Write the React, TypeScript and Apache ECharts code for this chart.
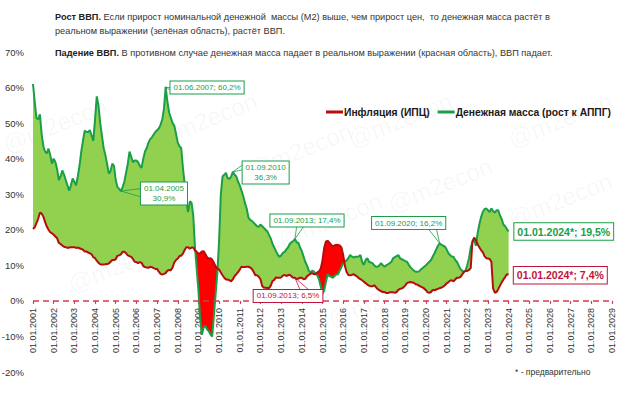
import React, { useEffect, useRef } from "react";
import * as echarts from "echarts";

// Monthly dates 01.MM.YYYY from 01.01.2001 to 01.01.2029
const firstYear = 2001;
const lastYear = 2029;
const categories: string[] = [];
for (let y = firstYear; y <= lastYear; y++) {
  for (let m = 1; m <= 12; m++) {
    if (y === lastYear && m > 1) break;
    categories.push(`01.${String(m).padStart(2, "0")}.${y}`);
  }
}

// Money supply M2, % y/y, monthly from 01.01.2001 to 01.01.2024
const moneySupply: number[] = [
  61, 56, 51.5, 51, 52.5, 47, 43.5, 42, 41.5, 42.8, 41, 38.6, // 2001
  40, 39, 37, 34, 35, 36.7, 35.5, 34, 32.5, 31, 32.5, 34.4, // 2002
  33.5, 32.5, 35, 38, 42, 45, 47.9, 47.5, 47.5, 48, 46.5, 45, // 2003
  51, 57.5, 55, 50, 46.5, 43, 41, 38.5, 35.8, 36.5, 38.6, 38, // 2004
  34, 32, 31.5, 30.9, 32, 33.5, 36, 38.5, 42, 40.5, 39, 39.5, // 2005
  39.5, 39, 38, 37.4, 40, 42, 43, 44.5, 45.5, 46, 46.8, 47.5, // 2006
  48, 48.5, 49.5, 51, 54, 60.2, 56, 53, 51.5, 50, 49.3, 47, // 2007
  44.5, 43.5, 43, 37.5, 33, 28, 25, 28, 27.6, 24, 15, 9, // 2008
  3, -5, -9.5, -7.5, -7, -8, -8.5, -9.5, -10, -4, 2, 8, // 2009
  17, 30, 35, 35.5, 36, 34.5, 34.3, 35, 36.3, 35.5, 35, 33.5, // 2010
  32.5, 31, 29.5, 27.5, 26, 23.5, 22.8, 22.5, 22, 21.5, 21, 20.8, // 2011
  21.5, 21, 20.5, 20, 19.5, 18.5, 17.5, 16, 15, 14, 13, 12.4, // 2012
  12.8, 13.5, 13.8, 14.5, 15, 16, 16.5, 16.8, 17.4, 16.5, 16.3, 15, // 2013
  14, 12.5, 11, 10, 8.5, 8, 8.5, 8.3, 7.5, 7.2, 6, 4, // 2014
  2, 3, 5.4, 7.5, 7, 6.8, 6.5, 7, 7.4, 7.5, 8.5, 9.5, // 2015
  10.6, 11, 11.4, 12, 12.9, 12.5, 12.2, 12.4, 12.4, 12.5, 12.9, 11, // 2016
  10.1, 11.5, 12, 11, 10.8, 10.6, 10, 9.6, 9.6, 10, 10.6, 10, // 2017
  9.6, 10, 10.3, 10.6, 11, 12, 12.3, 12.6, 12.9, 12, 11.7, 11.5, // 2018
  11.2, 11, 10.2, 9.5, 9, 8.5, 8.2, 8.2, 8.3, 8.8, 9.2, 9.6, // 2019
  10, 10.5, 11, 11.5, 12.5, 13.4, 14.5, 15.5, 16.2, 15.8, 15.5, 15.3, // 2020
  14.5, 13.5, 12.9, 12.5, 12.4, 11.5, 11, 10, 9, 8.5, 8.2, 8.5, // 2021
  10, 12, 15, 16.5, 17.2, 15.5, 19, 21.5, 23.5, 25, 25.8, 26, // 2022
  25.5, 25, 26, 25.3, 24.8, 25.5, 25.5, 24, 23, 21.5, 21, 20.2, // 2023
  19.5, // 01.01.2024
];

// Inflation (CPI), % y/y, at the same dates
const inflation: number[] = [
  20.2, 20.7, 21.9, 23.1, 24.8, 24.6, 23.7, 22.2, 20.9, 20.0, 19.3, 19.0, // 2001
  18.6, 18.1, 17.6, 16.3, 16.0, 15.6, 15.2, 15.1, 14.9, 15.0, 15.1, 15.1, // 2002
  15.1, 14.9, 15.0, 14.8, 14.6, 14.4, 13.9, 13.9, 13.6, 13.4, 13.1, 12.3, // 2003
  12.0, 11.3, 10.7, 10.3, 10.2, 10.2, 10.3, 10.4, 10.5, 11.0, 11.5, 11.5, // 2004
  11.7, 12.7, 12.8, 13.1, 13.8, 13.8, 13.4, 12.8, 12.6, 12.4, 11.8, 11.0, // 2005
  10.9, 10.6, 10.9, 10.7, 9.8, 9.5, 9.4, 9.3, 9.6, 9.5, 9.2, 9.0, // 2006
  9.0, 8.2, 7.6, 7.4, 7.6, 7.8, 8.5, 8.7, 8.6, 9.4, 10.8, 11.5, // 2007
  11.9, 12.6, 12.7, 13.3, 14.3, 15.1, 15.1, 14.7, 15.0, 15.0, 14.2, 13.8, // 2008
  13.3, 13.4, 13.9, 14.0, 13.2, 12.3, 11.9, 12.0, 11.6, 10.7, 9.7, 9.1, // 2009
  8.8, 8.0, 7.2, 6.5, 6.0, 6.0, 5.8, 5.5, 6.1, 7.0, 7.5, 8.1, // 2010
  8.8, 9.6, 9.5, 9.5, 9.6, 9.6, 9.4, 9.0, 8.2, 7.2, 7.2, 6.8, // 2011
  6.1, 4.2, 3.7, 3.7, 3.6, 3.6, 4.3, 5.6, 5.9, 6.6, 6.5, 6.5, // 2012
  6.6, 7.1, 7.3, 7.0, 7.2, 7.4, 6.9, 6.5, 6.5, 6.1, 6.3, 6.5, // 2013
  6.5, 6.1, 6.2, 6.9, 7.3, 7.6, 7.8, 7.5, 7.6, 8.0, 8.3, 9.1, // 2014
  11.4, 15.0, 16.7, 16.9, 16.4, 15.8, 15.3, 15.6, 15.8, 15.7, 15.6, 15.0, // 2015
  12.9, 9.8, 8.1, 7.3, 7.2, 7.3, 7.5, 7.2, 6.9, 6.4, 6.1, 5.8, // 2016
  5.4, 5.0, 4.6, 4.3, 4.1, 4.1, 4.4, 3.9, 3.3, 3.0, 2.7, 2.5, // 2017
  2.5, 2.2, 2.2, 2.4, 2.4, 2.4, 2.3, 2.5, 3.1, 3.4, 3.5, 3.8, // 2018
  4.3, 5.0, 5.2, 5.3, 5.2, 5.1, 4.7, 4.6, 4.3, 4.0, 3.8, 3.5, // 2019
  3.0, 2.4, 2.3, 2.5, 3.1, 3.0, 3.2, 3.4, 3.6, 3.7, 4.0, 4.4, // 2020
  4.9, 5.2, 5.7, 5.8, 5.5, 6.0, 6.5, 6.5, 6.7, 7.4, 8.1, 8.4, // 2021
  8.4, 8.7, 9.2, 16.7, 17.8, 17.1, 15.9, 15.1, 14.3, 13.7, 12.6, 12.0, // 2022
  11.9, 11.8, 11.0, 3.5, 2.3, 2.5, 3.3, 4.3, 5.2, 6.0, 6.7, 7.5, // 2023
  7.4, // 01.01.2024
];

const yTicks = { min: -20, max: 70, step: 10 };

const seriesNames = ["Инфляция (ИПЦ)", "Денежная масса (рост к АППГ)"];

const GREEN_LINE = "#1a9e48";
const GREEN_FILL = "#92d050";
const RED_LINE = "#b50d0d";
const RED_FILL = "#ff0000";
const RED_BOX = "#c0143c";
const ZERO_LINE = "#cf3a55";
const FONT = "'Liberation Sans', Arial, sans-serif";

type Callout = {
  text: string;
  at: [number, number];
  box: [number, number];
  wedge: [number, number][];
  color: string;
  size: number;
  bold: boolean;
};
const callouts: Callout[] = [
  { text: "01.06.2007; 60,2%", at: [77, 60.2], box: [101, 60.0], wedge: [[80.7, 60.1], [80.7, 58.8]], color: GREEN_LINE, size: 8, bold: false },
  { text: "01.04.2005\n30,9%", at: [51, 30.9], box: [75.7, 30.2], wedge: [[63.3, 31.6], [63.3, 29.2]], color: GREEN_LINE, size: 8, bold: false },
  { text: "01.09.2010\n36,3%", at: [116, 36.3], box: [134.6, 36.1], wedge: [[121.9, 38.4], [121.9, 36.9]], color: GREEN_LINE, size: 8, bold: false },
  { text: "01.09.2013; 17,4%", at: [152, 17.4], box: [159.3, 22.6], wedge: [[153.2, 20.9], [157.3, 20.9]], color: GREEN_LINE, size: 8, bold: false },
  { text: "01.09.2013; 6,5%", at: [152, 6.5], box: [148, 1.4], wedge: [[154.9, 3.1], [159.6, 3.1]], color: RED_BOX, size: 8, bold: false },
  { text: "01.09.2020; 16,2%", at: [236, 16.2], box: [217.9, 21.9], wedge: [[229.2, 20.5], [233.9, 20.5]], color: GREEN_LINE, size: 8, bold: false },
  { text: "01.01.2024*; 19,5%", at: [276, 19.5], box: [307.9, 19.5], wedge: [], color: GREEN_LINE, size: 10.5, bold: true },
  { text: "01.01.2024*; 7,4%", at: [276, 7.4], box: [306.1, 7.2], wedge: [], color: RED_BOX, size: 10.5, bold: true },
];

const watermarks: [number, number][] = [
  [55, 125], [205, 120], [300, 150], [400, 120], [330, 220], [440, 185], [560, 120], [560, 200], [120, 265], [380, 300],
];

export default function App() {
  const ref = useRef<HTMLDivElement>(null);
  useEffect(() => {
    if (!ref.current) return;
    const chart = echarts.init(ref.current, undefined, { renderer: "svg" });

    const base = moneySupply.map((v, i) => Math.min(v, inflation[i]));
    const greenPart = moneySupply.map((v, i) => Math.max(v - inflation[i], 0));
    const redPart = moneySupply.map((v, i) => Math.max(inflation[i] - v, 0));

    const isYearStart = (idx: number) => idx % 12 === 0;

    const markPointData = callouts.map((c) => ({
      coord: c.box,
      symbol: "rect",
      symbolSize: 1,
      itemStyle: { color: "rgba(0,0,0,0)" },
      label: {
        show: true,
        position: "inside",
        formatter: c.text,
        color: c.color,
        fontSize: c.size,
        fontWeight: c.bold ? "bold" : "normal",
        fontFamily: FONT,
        lineHeight: c.size + 2,
        align: "center",
        backgroundColor: "#ffffff",
        borderColor: c.color,
        borderWidth: 1,
        padding: c.bold ? [2, 3, 2, 3] : [1, 3, 1, 3],
      },
    }));
    const markLineData: any[] = [];
    callouts.forEach((c) => {
      c.wedge.forEach((w) => {
        markLineData.push([
          { coord: c.at, lineStyle: { color: c.color, width: 0.8, type: "solid" } },
          { coord: w },
        ]);
      });
    });

    const graphics: any[] = [
      {
        type: "text",
        left: 55,
        top: 10,
        style: {
          text: "{b|Рост ВВП.} Если прирост номинальной денежной  массы (М2) выше, чем прирост цен,  то денежная масса растёт в\nреальном выражении (зелёная область), растёт ВВП.",
          fontSize: 9.2,
          lineHeight: 14,
          fontFamily: FONT,
          fill: "#333",
          rich: { b: { fontWeight: "bold", fontSize: 9.2, fontFamily: FONT, fill: "#222" } },
        },
      },
      {
        type: "text",
        left: 55,
        top: 48,
        style: {
          text: "{b|Падение ВВП.} В противном случае денежная масса падает в реальном выражении (красная область), ВВП падает.",
          fontSize: 9.2,
          fontFamily: FONT,
          fill: "#333",
          rich: { b: { fontWeight: "bold", fontSize: 9.2, fontFamily: FONT, fill: "#222" } },
        },
      },
      {
        type: "text",
        left: 515,
        top: 367,
        style: { text: "* - предварительно", fontSize: 8.5, fontFamily: FONT, fill: "#333" },
      },
      ...watermarks.map(([x, y]) => ({
        type: "text",
        x,
        y,
        rotation: 0.38,
        z: -10,
        silent: true,
        style: {
          text: "@m2econ",
          fontSize: 24,
          fontFamily: FONT,
          fill: "rgba(0,0,0,0.04)",
          align: "center",
          verticalAlign: "middle",
        },
      })),
    ];

    chart.setOption({
      animation: false,
      backgroundColor: "#ffffff",
      textStyle: { fontFamily: FONT },
      grid: { left: 33, right: 8, top: 52, bottom: 27, containLabel: false, outerBoundsMode: "none" },
      legend: {
        left: 321,
        top: 102,
        width: 400,
        icon: "rect",
        itemWidth: 17,
        itemHeight: 3,
        itemGap: 8,
        data: seriesNames,
        textStyle: { fontWeight: "bold", fontSize: 10.3, color: "#1a1a1a", fontFamily: FONT, padding: [0, 0, 0, -4] },
      },
      xAxis: [
        {
          type: "category",
          data: categories,
          boundaryGap: false,
          position: "bottom",
          axisLine: { show: false, onZero: false },
          axisTick: { show: false },
          axisLabel: {
            interval: (i: number) => isYearStart(i),
            rotate: 90,
            fontSize: 9,
            color: "#333",
            margin: -64,
            fontFamily: FONT,
          },
          splitLine: { show: false },
        },
        {
          type: "category",
          data: categories,
          boundaryGap: false,
          position: "bottom",
          axisLine: { show: false, onZero: true },
          axisTick: {
            show: true,
            interval: (i: number) => isYearStart(i),
            length: 3,
            inside: false,
            lineStyle: { color: ZERO_LINE, width: 1.2 },
          },
          axisLabel: { show: false },
          splitLine: { show: false },
        },
      ],
      yAxis: {
        type: "value",
        min: yTicks.min,
        max: yTicks.max,
        interval: yTicks.step,
        axisLabel: { formatter: "{value}%", fontSize: 9.5, color: "#333", margin: 9, fontFamily: FONT },
        axisLine: { show: false },
        axisTick: { show: false },
        splitLine: { show: false },
      },
      graphic: graphics,
      series: [
        {
          name: "base",
          type: "line",
          data: base,
          stack: "gap",
          stackStrategy: "all",
          symbol: "none",
          silent: true,
          lineStyle: { width: 0, opacity: 0 },
          z: 1,
          markLine: {
            silent: true,
            symbol: ["none", "none"],
            label: { show: false },
            lineStyle: { color: ZERO_LINE, type: [6, 4], width: 1.5 },
            data: [{ yAxis: 0 }],
          },
        },
        {
          name: "green",
          type: "line",
          data: greenPart,
          stack: "gap",
          stackStrategy: "all",
          symbol: "none",
          silent: true,
          lineStyle: { width: 0, opacity: 0 },
          areaStyle: { color: GREEN_FILL, opacity: 1 },
          z: 1,
        },
        {
          name: "red",
          type: "line",
          data: redPart,
          stack: "gap",
          stackStrategy: "all",
          symbol: "none",
          silent: true,
          lineStyle: { width: 0, opacity: 0 },
          areaStyle: { color: RED_FILL, opacity: 1 },
          z: 1,
        },
        {
          name: seriesNames[1],
          type: "line",
          data: moneySupply,
          symbol: "none",
          color: GREEN_LINE,
          lineStyle: { color: GREEN_LINE, width: 2 },
          z: 3,
        },
        {
          name: seriesNames[0],
          type: "line",
          data: inflation,
          symbol: "none",
          color: RED_LINE,
          lineStyle: { color: RED_LINE, width: 2 },
          z: 4,
          markLine: { silent: true, symbol: ["none", "none"], label: { show: false }, data: markLineData },
          markPoint: { silent: true, data: markPointData },
        },
      ],
    });
    return () => chart.dispose();
  }, []);
  return <div ref={ref} style={{ width: 620, height: 399, position: "absolute", left: 0, top: 0 }} />;
}
